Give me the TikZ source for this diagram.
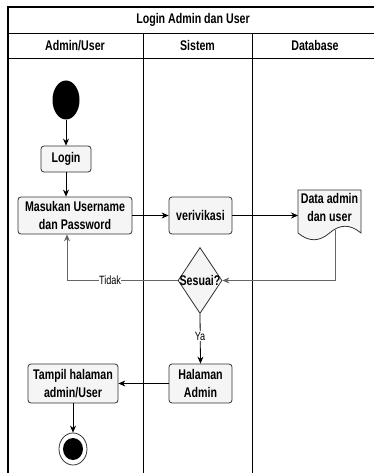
\documentclass[tikz,border=0pt]{standalone}
\usepackage{fontspec}
\setmainfont{Liberation Sans}[FakeStretch=0.76]
\usetikzlibrary{shapes.geometric,arrows.meta}

\definecolor{boxfill}{HTML}{F5F5F5}
\definecolor{boxline}{HTML}{333333}
\definecolor{flowgray}{HTML}{666666}

\tikzset{
  actbox/.style={draw=boxline, fill=boxfill, rounded corners=3pt, line width=0.8pt,
    align=center, inner sep=0pt, font=\bfseries\fontsize{14}{18}\selectfont},
  headtext/.style={font=\bfseries\fontsize{14}{18}\selectfont, inner sep=0pt},
  flow/.style={-{Stealth[length=7pt,width=6pt]}, line width=0.8pt, draw=black},
  greyflow/.style={flow, draw=flowgray},
  edgelabel/.style={fill=white, inner sep=0.5pt, font=\fontsize{12}{14}\selectfont},
  laneline/.style={line width=0.8pt, draw=black},
}

\begin{document}
\begin{tikzpicture}[x=1pt, y=-1pt]
  \useasboundingbox (0,0) rectangle (374,473);
  \fill[white] (0,0) rectangle (374,473);
  \begin{scope}
    \clip (0,0) rectangle (374,473);
    % swimlane frame
    \draw[laneline] (7.5,33) -- (380,33);
    \draw[laneline] (7.5,58) -- (380,58);
    \draw[laneline] (143,33) -- (143,480);
    \draw[laneline] (252,33) -- (252,480);
    \draw[line width=2pt] (7.5,480) -- (7.5,7) -- (380,7);
  \end{scope}

  % headings
  \node[headtext] (title) at (193,20) {Login Admin dan User};
  \node[headtext] (laneA) at (75,45.5) {Admin/User};
  \node[headtext] (laneS) at (197.5,45.5) {Sistem};
  \node[headtext] (laneD) at (315,45.5) {Database};

  % activities
  \node[ellipse, fill=black, minimum width=27pt, minimum height=39pt, inner sep=0pt] (start) at (66,100) {};
  \node[actbox, minimum width=50pt, minimum height=26pt] (login) at (66,159) {Login};
  \node[actbox, minimum width=114pt, minimum height=37pt] (masukan) at (75,215.5) {Masukan Username\\dan Password};
  \node[actbox, minimum width=63pt, minimum height=37pt] (verif) at (200.5,215.5) {verivikasi};

  % document shape for the data store
  \draw[draw=boxline, fill=boxfill, line width=0.8pt]
    (298,190) -- (361,190) -- (361,233)
    .. controls (350,224) and (340,224) .. (329.5,233)
    .. controls (319,242) and (309,242) .. (298,233) -- cycle;
  \node[headtext, align=center] (data) at (329.5,207.5) {Data admin\\dan user};
  \coordinate (dataleft) at (298,215.5);
  \coordinate (databottom) at (335,230);

  \node[diamond, draw=boxline, fill=boxfill, line width=0.8pt, minimum width=44pt,
        minimum height=66pt, inner sep=0pt,
        label={[headtext]center:Sesuai?}] (sesuai) at (200,280.5) {};

  \node[actbox, minimum width=63pt, minimum height=39pt] (halaman) at (200.5,383.5) {Halaman\\Admin};
  \node[actbox, minimum width=90pt, minimum height=39pt] (tampil) at (73,383.5) {Tampil halaman\\admin/User};

  \node[ellipse, draw=boxline, fill=white, line width=0.8pt, minimum width=28pt,
        minimum height=32pt, inner sep=0pt] (finish) at (73,449) {};
  \node[ellipse, fill=black, minimum width=20pt, minimum height=22pt, inner sep=0pt] (finishcore) at (finish.center) {};

  % connectors
  \draw[flow] (start) -- (login);
  \draw[flow] (login) -- (login.south |- masukan.north);
  \draw[flow] (masukan) -- (verif);
  \draw[flow] (verif.east) -- (dataleft);
  \draw[greyflow] (databottom) |- (sesuai.east);
  \coordinate (tidakcorner) at (67,280.5);
  \draw[greyflow] (sesuai.west) -- (tidakcorner) -- (tidakcorner |- masukan.south);
  \node[edgelabel] (tidak) at (110,280.5) {Tidak};
  \draw[flow] (sesuai.south) -- (halaman.north);
  \node[edgelabel] (ya) at (200,336) {Ya};
  \draw[flow] (halaman) -- (tampil);
  \draw[flow] (tampil) -- (finish);
\end{tikzpicture}
\end{document}
